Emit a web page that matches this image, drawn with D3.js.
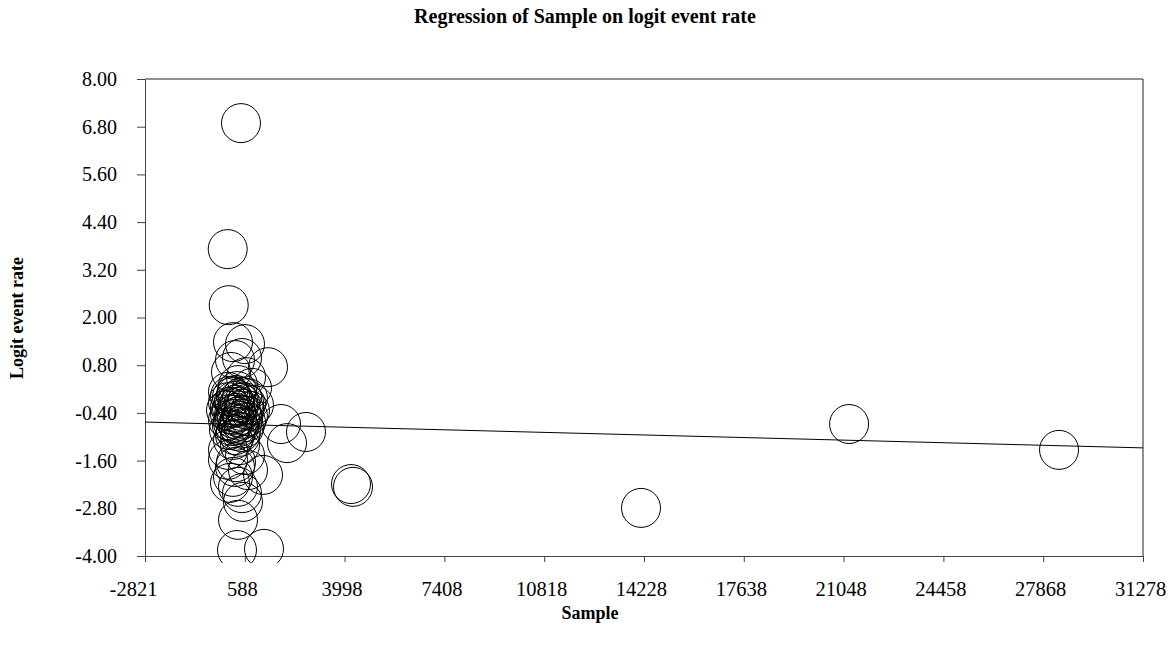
<!DOCTYPE html>
<html>
<head>
<meta charset="utf-8">
<script src="https://cdn.jsdelivr.net/npm/d3@7"></script>
<style>
  body { margin: 0; background: #fff; }
  svg { display: block; }
  text { font-family: "Liberation Serif", "Times New Roman", serif; fill: #000; }
</style>
</head>
<body>
<svg id="chart" width="1174" height="646"></svg>
<script>
// study values
const sample = [
  459, 5, 39,
  186, 596, 493, 254, 1382, 117, 630, 357, 835, 15,
  83, 288, 493, 698,
  15, 220, 425, 630, 903,
  152, 357, 562, -53, 767,
  83, 288, 493, 698,
  15, 220, 425, 630,
  152, 357, 562, 49, 459, 254,
  357, 152, 562, 254, 459, 83, 322, 527, 186, 391, 288, 425, 322, 220,
  186, 425, 15, 596, 288, 15, 254, 698, 1211, 186, 83, 357, 493, 527, 357, 322, 1245,
  1826, 2680, 2031,
  4218, 4286, 14127, 21235, 28409
];
const logit = [
  6.89, 3.72, 2.31,
  1.38, 1.33, 0.98, 0.93, 0.75, 0.63, 0.50, 0.30, 0.23, 0.13,
  0.03, 0.05, 0.00, -0.03,
  -0.13, -0.10, -0.15, -0.18, -0.20,
  -0.28, -0.25, -0.30, -0.33, -0.35,
  -0.43, -0.40, -0.45, -0.48,
  -0.58, -0.55, -0.60, -0.63,
  -0.73, -0.70, -0.78, -0.83, -0.88, -0.96,
  -0.08, 0.00, -0.13, -0.20, -0.35, -0.25, -0.50, -0.55, -0.65, -0.75, -0.85, -1.00, 0.15, -0.45,
  -1.08, -1.21, -1.33, -1.46, -1.64, -1.58, -1.76, -1.84, -1.96, -2.01, -2.16, -2.26, -2.42, -2.64, -3.09, -3.85, -3.82,
  -0.68, -0.88, -1.16,
  -2.19, -2.26, -2.79, -0.68, -1.33
];

// regression line
const intercept = -0.684;
const slope = -0.00001906;

const xTicks = [-2821, 588, 3998, 7408, 10818, 14228, 17638, 21048, 24458, 27868, 31278];
const yTicks = [-4.00, -2.80, -1.60, -0.40, 0.80, 2.00, 3.20, 4.40, 5.60, 6.80, 8.00];

const margin = { top: 79, right: 31, bottom: 90, left: 145 };
const width = 1174, height = 646;
const r = 19.5;

const svg = d3.select("#chart");

const x = d3.scaleLinear()
  .domain([xTicks[0], xTicks[xTicks.length - 1]])
  .range([margin.left, width - margin.right]);
const y = d3.scaleLinear()
  .domain([yTicks[0], yTicks[yTicks.length - 1]])
  .range([height - margin.bottom, margin.top]);

const fmtX = d => d3.format("d")(d).replace("\u2212", "-");
const fmtY = d => d3.format(".2f")(d).replace("\u2212", "-");

svg.append("defs").append("clipPath")
  .attr("id", "clip")
  .append("rect")
  .attr("x", margin.left)
  .attr("y", margin.top)
  .attr("width", width - margin.left - margin.right)
  .attr("height", height - margin.top - margin.bottom + 7);

// frame top and right
svg.append("path")
  .attr("d", `M${x.range()[0]},${y.range()[1]}H${x.range()[1]}V${y.range()[0]}`)
  .attr("fill", "none")
  .attr("stroke", "#222")
  .attr("stroke-width", 1);

const xAxis = svg.append("g")
  .attr("transform", `translate(0,${y.range()[0]})`)
  .call(d3.axisBottom(x).tickValues(xTicks).tickSize(6).tickSizeOuter(0).tickFormat(fmtX));
xAxis.selectAll("text")
  .attr("y", 25)
  .attr("dx", d => d < 0 ? -12 : -3)
  .style("font-size", "20.5px");

const yAxis = svg.append("g")
  .attr("transform", `translate(${x.range()[0]},0)`)
  .call(d3.axisLeft(y).tickValues(yTicks).tickSize(8).tickSizeOuter(0).tickFormat(fmtY));
yAxis.selectAll("text")
  .attr("x", -28)
  .style("font-size", "20px");

svg.selectAll(".domain, .tick line").attr("stroke", "#444");

const points = sample.map((s, i) => ({ s, l: logit[i] }));

const plot = svg.append("g").attr("clip-path", "url(#clip)");

plot.selectAll("circle")
  .data(points)
  .enter()
  .append("circle")
  .attr("cx", d => x(d.s))
  .attr("cy", d => y(d.l))
  .attr("r", r)
  .attr("fill", "none")
  .attr("stroke", "#000")
  .attr("stroke-width", 1);

const x0 = x.domain()[0], x1 = x.domain()[1];
plot.append("line")
  .attr("x1", x(x0))
  .attr("y1", y(intercept + slope * x0))
  .attr("x2", x(x1))
  .attr("y2", y(intercept + slope * x1))
  .attr("stroke", "#000")
  .attr("stroke-width", 1);

svg.append("text")
  .attr("x", 585)
  .attr("y", 23)
  .attr("text-anchor", "middle")
  .style("font-size", "20px")
  .style("font-weight", "bold")
  .text("Regression of Sample on logit event rate");

svg.append("text")
  .attr("x", 590)
  .attr("y", 619)
  .attr("text-anchor", "middle")
  .style("font-size", "18px")
  .style("font-weight", "bold")
  .text("Sample");

svg.append("text")
  .attr("transform", "translate(23,318) rotate(-90)")
  .attr("text-anchor", "middle")
  .style("font-size", "18px")
  .style("font-weight", "bold")
  .text("Logit event rate");
</script>
</body>
</html>
